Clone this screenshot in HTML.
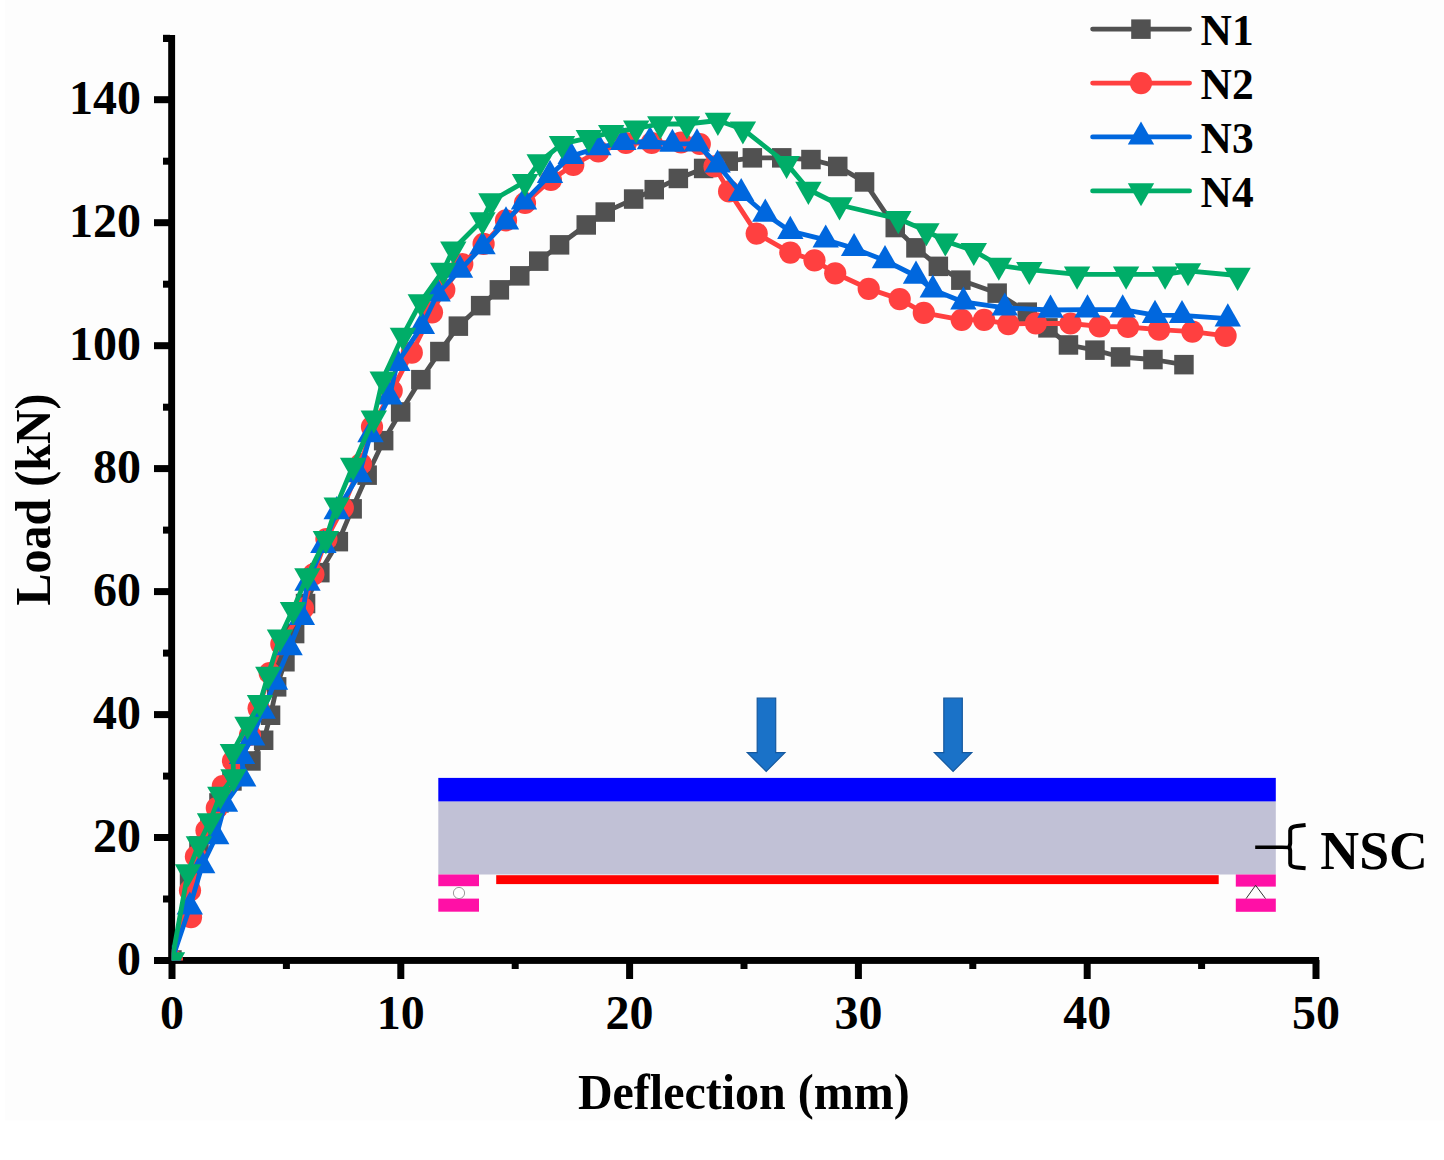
<!DOCTYPE html>
<html><head><meta charset="utf-8"><style>
html,body{margin:0;padding:0;background:#ffffff;}
svg{display:block;}
text{font-family:"Liberation Serif",serif;font-weight:bold;fill:#000;}
</style></head><body>
<svg width="1444" height="1160" viewBox="0 0 1444 1160">
<rect x="0" y="0" width="1444" height="1160" fill="#ffffff"/><rect x="5" y="0" width="1439" height="1120.5" fill="#fdfdfd"/>
<defs><clipPath id="pc"><rect x="171.8" y="30" width="1144.5" height="930.6"/></clipPath></defs>

<g>
<rect x="438.3" y="801.4" width="837.5" height="73.1" fill="#c1c1d6"/>
<rect x="438.3" y="777.9" width="837.5" height="23.5" fill="#0000ff"/>
<rect x="496.2" y="875.2" width="722.5" height="8.9" fill="#ff0000"/>
<rect x="438.3" y="874.5" width="40.7" height="11.7" fill="#ff10a6"/>
<rect x="438.3" y="898.6" width="40.7" height="13.1" fill="#ff10a6"/>
<rect x="1235.8" y="874.5" width="40" height="12.1" fill="#ff10a6"/>
<rect x="1235.8" y="898.6" width="40" height="13.2" fill="#ff10a6"/>
<circle cx="459" cy="893" r="5.6" fill="#fff" stroke="#808080" stroke-width="0.8"/>
<polyline points="1246.1,898.6 1255.6,885.3 1265.5,898.6" fill="none" stroke="#333" stroke-width="1"/>
<path d="M757.2,698.2 H775.7 V752.6 H784.9 L766.2,771.4 L747.3,752.6 H757.2 Z" fill="#1a72c8" stroke="#14589e" stroke-width="1.2"/>
<path d="M943.8,698.2 H962.3 V752.6 H971.8 L953.1,771.4 L934.4,752.6 H943.8 Z" fill="#1a72c8" stroke="#14589e" stroke-width="1.2"/>
<path d="M1255.2,847.2 H1282 L1289,847.5" stroke="#000" stroke-width="3.5" fill="none"/>
<path d="M1305.6,824.9 L1297,825.9 Q1290.2,826.6 1290.2,830.5 V843.5 L1289.4,847 L1290.2,850.5 V863.5 Q1290.2,866.8 1297,867.5 L1305.6,868.3" stroke="#000" stroke-width="4" fill="none" stroke-linejoin="round"/>
<text transform="translate(1320.3,869) scale(0.978,1)" font-size="55">NSC</text>
</g>

<rect x="168.2" y="35" width="6.9" height="929" fill="#000"/><rect x="168.2" y="957" width="1150.9" height="6.9" fill="#000"/><rect x="154" y="957.0" width="16" height="7" fill="#000"/><text x="141" y="974.7" font-size="48" text-anchor="end">0</text><rect x="154" y="834.0" width="16" height="7" fill="#000"/><text x="141" y="851.7" font-size="48" text-anchor="end">20</text><rect x="154" y="711.1" width="16" height="7" fill="#000"/><text x="141" y="728.8" font-size="48" text-anchor="end">40</text><rect x="154" y="588.1" width="16" height="7" fill="#000"/><text x="141" y="605.8" font-size="48" text-anchor="end">60</text><rect x="154" y="465.1" width="16" height="7" fill="#000"/><text x="141" y="482.8" font-size="48" text-anchor="end">80</text><rect x="154" y="342.2" width="16" height="7" fill="#000"/><text x="141" y="359.9" font-size="48" text-anchor="end">100</text><rect x="154" y="219.2" width="16" height="7" fill="#000"/><text x="141" y="236.9" font-size="48" text-anchor="end">120</text><rect x="154" y="96.2" width="16" height="7" fill="#000"/><text x="141" y="114.0" font-size="48" text-anchor="end">140</text><rect x="163" y="895.5" width="7" height="7" fill="#000"/><rect x="163" y="772.6" width="7" height="7" fill="#000"/><rect x="163" y="649.6" width="7" height="7" fill="#000"/><rect x="163" y="526.6" width="7" height="7" fill="#000"/><rect x="163" y="403.7" width="7" height="7" fill="#000"/><rect x="163" y="280.7" width="7" height="7" fill="#000"/><rect x="163" y="157.7" width="7" height="7" fill="#000"/><rect x="163" y="34.8" width="7" height="7" fill="#000"/><rect x="163" y="35" width="7" height="7" fill="#000"/><rect x="168.5" y="960" width="7" height="19" fill="#000"/><text x="172.0" y="1029" font-size="48" text-anchor="middle">0</text><rect x="397.3" y="960" width="7" height="19" fill="#000"/><text x="400.8" y="1029" font-size="48" text-anchor="middle">10</text><rect x="626.1" y="960" width="7" height="19" fill="#000"/><text x="629.6" y="1029" font-size="48" text-anchor="middle">20</text><rect x="854.9" y="960" width="7" height="19" fill="#000"/><text x="858.4" y="1029" font-size="48" text-anchor="middle">30</text><rect x="1083.7" y="960" width="7" height="19" fill="#000"/><text x="1087.2" y="1029" font-size="48" text-anchor="middle">40</text><rect x="1312.5" y="960" width="7" height="19" fill="#000"/><text x="1316.0" y="1029" font-size="48" text-anchor="middle">50</text><rect x="282.9" y="960" width="7" height="9" fill="#000"/><rect x="511.7" y="960" width="7" height="9" fill="#000"/><rect x="740.5" y="960" width="7" height="9" fill="#000"/><rect x="969.3" y="960" width="7" height="9" fill="#000"/><rect x="1198.1" y="960" width="7" height="9" fill="#000"/>
<g clip-path="url(#pc)">
<polyline points="172.0,960.0 189.5,880.0 199.0,846.0 210.0,826.0 219.0,803.0 232.0,781.0 251.0,761.0 263.7,740.3 270.5,715.2 276.7,686.9 285.0,661.8 294.6,633.5 305.5,603.5 319.8,572.6 338.4,541.6 352.2,508.8 367.2,475.2 383.6,440.7 400.6,412.0 420.8,379.6 439.9,351.5 458.3,326.2 480.7,305.6 499.3,289.9 519.8,275.9 538.8,261.2 559.5,244.8 586.2,225.0 605.2,212.1 633.6,199.1 654.3,189.7 678.4,178.4 703.6,168.4 728.3,161.2 752.4,157.8 781.7,157.8 811.0,159.5 837.8,166.4 864.5,181.9 895.3,227.6 916.0,247.8 938.4,266.4 960.9,280.2 997.1,293.1 1027.2,312.1 1047.9,327.9 1068.4,345.0 1095.0,350.1 1120.6,357.0 1152.9,359.5 1184.0,364.6" fill="none" stroke="#515151" stroke-width="4.8" stroke-linejoin="round" stroke-linecap="round"/><rect x="162.2" y="950.2" width="19.5" height="19.5" fill="#515151"/><rect x="179.8" y="870.2" width="19.5" height="19.5" fill="#515151"/><rect x="189.2" y="836.2" width="19.5" height="19.5" fill="#515151"/><rect x="200.2" y="816.2" width="19.5" height="19.5" fill="#515151"/><rect x="209.2" y="793.2" width="19.5" height="19.5" fill="#515151"/><rect x="222.2" y="771.2" width="19.5" height="19.5" fill="#515151"/><rect x="241.2" y="751.2" width="19.5" height="19.5" fill="#515151"/><rect x="253.9" y="730.5" width="19.5" height="19.5" fill="#515151"/><rect x="260.8" y="705.5" width="19.5" height="19.5" fill="#515151"/><rect x="266.9" y="677.1" width="19.5" height="19.5" fill="#515151"/><rect x="275.2" y="652.0" width="19.5" height="19.5" fill="#515151"/><rect x="284.9" y="623.8" width="19.5" height="19.5" fill="#515151"/><rect x="295.8" y="593.8" width="19.5" height="19.5" fill="#515151"/><rect x="310.1" y="562.9" width="19.5" height="19.5" fill="#515151"/><rect x="328.6" y="531.9" width="19.5" height="19.5" fill="#515151"/><rect x="342.4" y="499.1" width="19.5" height="19.5" fill="#515151"/><rect x="357.4" y="465.4" width="19.5" height="19.5" fill="#515151"/><rect x="373.9" y="430.9" width="19.5" height="19.5" fill="#515151"/><rect x="390.9" y="402.2" width="19.5" height="19.5" fill="#515151"/><rect x="411.1" y="369.9" width="19.5" height="19.5" fill="#515151"/><rect x="430.1" y="341.8" width="19.5" height="19.5" fill="#515151"/><rect x="448.6" y="316.4" width="19.5" height="19.5" fill="#515151"/><rect x="470.9" y="295.9" width="19.5" height="19.5" fill="#515151"/><rect x="489.6" y="280.1" width="19.5" height="19.5" fill="#515151"/><rect x="510.0" y="266.1" width="19.5" height="19.5" fill="#515151"/><rect x="529.0" y="251.4" width="19.5" height="19.5" fill="#515151"/><rect x="549.8" y="235.1" width="19.5" height="19.5" fill="#515151"/><rect x="576.5" y="215.2" width="19.5" height="19.5" fill="#515151"/><rect x="595.5" y="202.3" width="19.5" height="19.5" fill="#515151"/><rect x="623.9" y="189.3" width="19.5" height="19.5" fill="#515151"/><rect x="644.5" y="179.9" width="19.5" height="19.5" fill="#515151"/><rect x="668.6" y="168.7" width="19.5" height="19.5" fill="#515151"/><rect x="693.9" y="158.7" width="19.5" height="19.5" fill="#515151"/><rect x="718.5" y="151.4" width="19.5" height="19.5" fill="#515151"/><rect x="742.6" y="148.1" width="19.5" height="19.5" fill="#515151"/><rect x="772.0" y="148.1" width="19.5" height="19.5" fill="#515151"/><rect x="801.2" y="149.8" width="19.5" height="19.5" fill="#515151"/><rect x="828.0" y="156.7" width="19.5" height="19.5" fill="#515151"/><rect x="854.8" y="172.2" width="19.5" height="19.5" fill="#515151"/><rect x="885.5" y="217.8" width="19.5" height="19.5" fill="#515151"/><rect x="906.2" y="238.1" width="19.5" height="19.5" fill="#515151"/><rect x="928.6" y="256.6" width="19.5" height="19.5" fill="#515151"/><rect x="951.1" y="270.4" width="19.5" height="19.5" fill="#515151"/><rect x="987.4" y="283.4" width="19.5" height="19.5" fill="#515151"/><rect x="1017.5" y="302.4" width="19.5" height="19.5" fill="#515151"/><rect x="1038.2" y="318.1" width="19.5" height="19.5" fill="#515151"/><rect x="1058.7" y="335.2" width="19.5" height="19.5" fill="#515151"/><rect x="1085.2" y="340.4" width="19.5" height="19.5" fill="#515151"/><rect x="1110.8" y="347.2" width="19.5" height="19.5" fill="#515151"/><rect x="1143.2" y="349.8" width="19.5" height="19.5" fill="#515151"/><rect x="1174.2" y="354.9" width="19.5" height="19.5" fill="#515151"/>
<polyline points="172.0,960.0 190.0,890.5 191.0,917.2 195.9,856.5 206.5,830.4 216.8,808.0 222.8,786.0 233.0,761.0 250.0,735.0 258.6,708.3 269.7,673.0 281.3,644.1 303.0,608.3 313.4,574.3 326.4,539.0 342.8,507.9 360.9,464.0 372.0,426.9 391.7,390.8 411.8,352.6 432.0,312.3 444.3,289.9 462.3,264.1 483.6,243.9 506.0,220.4 525.0,203.0 550.9,180.0 573.3,165.0 598.3,151.5 625.9,143.0 651.7,143.0 681.0,142.5 699.8,144.0 714.5,166.4 729.1,191.4 756.7,233.6 790.3,252.6 814.5,260.3 835.2,273.3 868.7,288.8 899.7,299.1 923.8,312.9 961.7,319.8 984.1,319.8 1008.3,324.1 1035.9,323.3 1070.5,323.5 1099.6,326.3 1128.0,327.0 1159.1,329.7 1192.4,331.6 1225.6,335.8" fill="none" stroke="#ff4040" stroke-width="4.8" stroke-linejoin="round" stroke-linecap="round"/><circle cx="172.0" cy="960.0" r="11.1" fill="#ff4040"/><circle cx="190.0" cy="890.5" r="11.1" fill="#ff4040"/><circle cx="191.0" cy="917.2" r="11.1" fill="#ff4040"/><circle cx="195.9" cy="856.5" r="11.1" fill="#ff4040"/><circle cx="206.5" cy="830.4" r="11.1" fill="#ff4040"/><circle cx="216.8" cy="808.0" r="11.1" fill="#ff4040"/><circle cx="222.8" cy="786.0" r="11.1" fill="#ff4040"/><circle cx="233.0" cy="761.0" r="11.1" fill="#ff4040"/><circle cx="250.0" cy="735.0" r="11.1" fill="#ff4040"/><circle cx="258.6" cy="708.3" r="11.1" fill="#ff4040"/><circle cx="269.7" cy="673.0" r="11.1" fill="#ff4040"/><circle cx="281.3" cy="644.1" r="11.1" fill="#ff4040"/><circle cx="303.0" cy="608.3" r="11.1" fill="#ff4040"/><circle cx="313.4" cy="574.3" r="11.1" fill="#ff4040"/><circle cx="326.4" cy="539.0" r="11.1" fill="#ff4040"/><circle cx="342.8" cy="507.9" r="11.1" fill="#ff4040"/><circle cx="360.9" cy="464.0" r="11.1" fill="#ff4040"/><circle cx="372.0" cy="426.9" r="11.1" fill="#ff4040"/><circle cx="391.7" cy="390.8" r="11.1" fill="#ff4040"/><circle cx="411.8" cy="352.6" r="11.1" fill="#ff4040"/><circle cx="432.0" cy="312.3" r="11.1" fill="#ff4040"/><circle cx="444.3" cy="289.9" r="11.1" fill="#ff4040"/><circle cx="462.3" cy="264.1" r="11.1" fill="#ff4040"/><circle cx="483.6" cy="243.9" r="11.1" fill="#ff4040"/><circle cx="506.0" cy="220.4" r="11.1" fill="#ff4040"/><circle cx="525.0" cy="203.0" r="11.1" fill="#ff4040"/><circle cx="550.9" cy="180.0" r="11.1" fill="#ff4040"/><circle cx="573.3" cy="165.0" r="11.1" fill="#ff4040"/><circle cx="598.3" cy="151.5" r="11.1" fill="#ff4040"/><circle cx="625.9" cy="143.0" r="11.1" fill="#ff4040"/><circle cx="651.7" cy="143.0" r="11.1" fill="#ff4040"/><circle cx="681.0" cy="142.5" r="11.1" fill="#ff4040"/><circle cx="699.8" cy="144.0" r="11.1" fill="#ff4040"/><circle cx="714.5" cy="166.4" r="11.1" fill="#ff4040"/><circle cx="729.1" cy="191.4" r="11.1" fill="#ff4040"/><circle cx="756.7" cy="233.6" r="11.1" fill="#ff4040"/><circle cx="790.3" cy="252.6" r="11.1" fill="#ff4040"/><circle cx="814.5" cy="260.3" r="11.1" fill="#ff4040"/><circle cx="835.2" cy="273.3" r="11.1" fill="#ff4040"/><circle cx="868.7" cy="288.8" r="11.1" fill="#ff4040"/><circle cx="899.7" cy="299.1" r="11.1" fill="#ff4040"/><circle cx="923.8" cy="312.9" r="11.1" fill="#ff4040"/><circle cx="961.7" cy="319.8" r="11.1" fill="#ff4040"/><circle cx="984.1" cy="319.8" r="11.1" fill="#ff4040"/><circle cx="1008.3" cy="324.1" r="11.1" fill="#ff4040"/><circle cx="1035.9" cy="323.3" r="11.1" fill="#ff4040"/><circle cx="1070.5" cy="323.5" r="11.1" fill="#ff4040"/><circle cx="1099.6" cy="326.3" r="11.1" fill="#ff4040"/><circle cx="1128.0" cy="327.0" r="11.1" fill="#ff4040"/><circle cx="1159.1" cy="329.7" r="11.1" fill="#ff4040"/><circle cx="1192.4" cy="331.6" r="11.1" fill="#ff4040"/><circle cx="1225.6" cy="335.8" r="11.1" fill="#ff4040"/>
<polyline points="172.0,960.0 189.8,906.9 202.2,865.5 216.2,836.5 225.0,804.1 243.2,778.7 242.0,756.4 252.2,737.7 262.7,711.0 275.0,682.1 289.6,647.6 301.9,617.2 307.5,583.0 323.4,545.2 336.7,511.5 359.1,474.5 370.5,434.5 389.4,396.8 397.3,363.2 421.9,326.2 437.6,293.7 460.0,270.0 482.5,246.6 506.0,221.7 524.0,201.9 550.0,175.2 570.7,156.2 598.3,147.6 623.3,142.4 650.0,141.5 672.4,144.1 697.0,143.7 717.6,164.8 741.2,193.3 765.3,214.0 790.3,231.2 825.7,239.8 854.1,248.4 885.0,260.5 916.0,276.0 932.8,289.8 963.4,301.9 1004.8,307.9 1050.5,310.0 1087.5,309.7 1122.7,309.7 1155.0,315.2 1182.0,315.4 1227.8,318.7" fill="none" stroke="#0067de" stroke-width="4.8" stroke-linejoin="round" stroke-linecap="round"/><polygon points="172.0,944.6 185.2,967.7 158.8,967.7" fill="#0067de"/><polygon points="189.8,891.5 203.0,914.6 176.6,914.6" fill="#0067de"/><polygon points="202.2,850.1 215.4,873.2 189.0,873.2" fill="#0067de"/><polygon points="216.2,821.1 229.4,844.2 203.0,844.2" fill="#0067de"/><polygon points="225.0,788.7 238.2,811.8 211.8,811.8" fill="#0067de"/><polygon points="243.2,763.3 256.4,786.4 230.0,786.4" fill="#0067de"/><polygon points="242.0,741.0 255.2,764.1 228.8,764.1" fill="#0067de"/><polygon points="252.2,722.3 265.4,745.4 239.0,745.4" fill="#0067de"/><polygon points="262.7,695.6 275.9,718.7 249.5,718.7" fill="#0067de"/><polygon points="275.0,666.7 288.2,689.8 261.8,689.8" fill="#0067de"/><polygon points="289.6,632.2 302.8,655.3 276.4,655.3" fill="#0067de"/><polygon points="301.9,601.8 315.1,624.9 288.7,624.9" fill="#0067de"/><polygon points="307.5,567.6 320.7,590.7 294.3,590.7" fill="#0067de"/><polygon points="323.4,529.8 336.6,552.9 310.2,552.9" fill="#0067de"/><polygon points="336.7,496.1 349.9,519.2 323.5,519.2" fill="#0067de"/><polygon points="359.1,459.1 372.3,482.2 345.9,482.2" fill="#0067de"/><polygon points="370.5,419.1 383.7,442.2 357.3,442.2" fill="#0067de"/><polygon points="389.4,381.4 402.6,404.5 376.2,404.5" fill="#0067de"/><polygon points="397.3,347.8 410.5,370.9 384.1,370.9" fill="#0067de"/><polygon points="421.9,310.8 435.1,333.9 408.7,333.9" fill="#0067de"/><polygon points="437.6,278.3 450.8,301.4 424.4,301.4" fill="#0067de"/><polygon points="460.0,254.6 473.2,277.7 446.8,277.7" fill="#0067de"/><polygon points="482.5,231.2 495.7,254.3 469.3,254.3" fill="#0067de"/><polygon points="506.0,206.3 519.2,229.4 492.8,229.4" fill="#0067de"/><polygon points="524.0,186.5 537.2,209.6 510.8,209.6" fill="#0067de"/><polygon points="550.0,159.8 563.2,182.9 536.8,182.9" fill="#0067de"/><polygon points="570.7,140.8 583.9,163.9 557.5,163.9" fill="#0067de"/><polygon points="598.3,132.2 611.5,155.3 585.1,155.3" fill="#0067de"/><polygon points="623.3,127.0 636.5,150.1 610.1,150.1" fill="#0067de"/><polygon points="650.0,126.1 663.2,149.2 636.8,149.2" fill="#0067de"/><polygon points="672.4,128.7 685.6,151.8 659.2,151.8" fill="#0067de"/><polygon points="697.0,128.3 710.2,151.4 683.8,151.4" fill="#0067de"/><polygon points="717.6,149.4 730.8,172.5 704.4,172.5" fill="#0067de"/><polygon points="741.2,177.9 754.4,201.0 728.0,201.0" fill="#0067de"/><polygon points="765.3,198.6 778.5,221.7 752.1,221.7" fill="#0067de"/><polygon points="790.3,215.8 803.5,238.9 777.1,238.9" fill="#0067de"/><polygon points="825.7,224.4 838.9,247.5 812.5,247.5" fill="#0067de"/><polygon points="854.1,233.0 867.3,256.1 840.9,256.1" fill="#0067de"/><polygon points="885.0,245.1 898.2,268.2 871.8,268.2" fill="#0067de"/><polygon points="916.0,260.6 929.2,283.7 902.8,283.7" fill="#0067de"/><polygon points="932.8,274.4 946.0,297.5 919.6,297.5" fill="#0067de"/><polygon points="963.4,286.5 976.6,309.6 950.2,309.6" fill="#0067de"/><polygon points="1004.8,292.5 1018.0,315.6 991.6,315.6" fill="#0067de"/><polygon points="1050.5,294.6 1063.7,317.7 1037.3,317.7" fill="#0067de"/><polygon points="1087.5,294.3 1100.7,317.4 1074.3,317.4" fill="#0067de"/><polygon points="1122.7,294.3 1135.9,317.4 1109.5,317.4" fill="#0067de"/><polygon points="1155.0,299.8 1168.2,322.9 1141.8,322.9" fill="#0067de"/><polygon points="1182.0,300.0 1195.2,323.1 1168.8,323.1" fill="#0067de"/><polygon points="1227.8,303.3 1241.0,326.4 1214.6,326.4" fill="#0067de"/>
<polyline points="172.0,960.0 188.0,872.0 198.9,844.0 210.0,821.0 220.3,794.4 233.5,777.0 232.9,751.7 247.5,724.5 260.0,702.8 268.3,674.5 280.0,637.3 293.0,609.6 307.4,575.9 325.9,538.8 336.7,505.2 353.1,465.5 373.8,418.3 382.7,379.3 402.9,335.5 420.8,301.9 443.2,270.5 453.3,249.2 482.5,220.0 491.4,201.0 525.0,181.7 539.7,161.9 562.0,143.8 588.8,137.8 611.2,132.6 636.2,128.3 660.3,124.0 687.0,124.0 717.9,120.5 742.9,129.2 786.6,163.6 808.4,189.5 839.5,205.0 898.3,218.8 926.4,230.9 945.3,241.2 973.8,250.7 998.8,265.4 1029.3,269.7 1077.1,274.3 1126.1,274.3 1165.1,274.3 1188.0,270.9 1237.6,275.5" fill="none" stroke="#00ad68" stroke-width="4.8" stroke-linejoin="round" stroke-linecap="round"/><polygon points="158.8,952.3 185.2,952.3 172.0,975.4" fill="#00ad68"/><polygon points="174.8,864.3 201.2,864.3 188.0,887.4" fill="#00ad68"/><polygon points="185.7,836.3 212.1,836.3 198.9,859.4" fill="#00ad68"/><polygon points="196.8,813.3 223.2,813.3 210.0,836.4" fill="#00ad68"/><polygon points="207.1,786.7 233.5,786.7 220.3,809.8" fill="#00ad68"/><polygon points="220.3,769.3 246.7,769.3 233.5,792.4" fill="#00ad68"/><polygon points="219.7,744.0 246.1,744.0 232.9,767.1" fill="#00ad68"/><polygon points="234.3,716.8 260.7,716.8 247.5,739.9" fill="#00ad68"/><polygon points="246.8,695.1 273.2,695.1 260.0,718.2" fill="#00ad68"/><polygon points="255.1,666.8 281.5,666.8 268.3,689.9" fill="#00ad68"/><polygon points="266.8,629.6 293.2,629.6 280.0,652.7" fill="#00ad68"/><polygon points="279.8,601.9 306.2,601.9 293.0,625.0" fill="#00ad68"/><polygon points="294.2,568.2 320.6,568.2 307.4,591.3" fill="#00ad68"/><polygon points="312.7,531.1 339.1,531.1 325.9,554.2" fill="#00ad68"/><polygon points="323.5,497.5 349.9,497.5 336.7,520.6" fill="#00ad68"/><polygon points="339.9,457.8 366.3,457.8 353.1,480.9" fill="#00ad68"/><polygon points="360.6,410.6 387.0,410.6 373.8,433.7" fill="#00ad68"/><polygon points="369.5,371.6 395.9,371.6 382.7,394.7" fill="#00ad68"/><polygon points="389.7,327.8 416.1,327.8 402.9,350.9" fill="#00ad68"/><polygon points="407.6,294.2 434.0,294.2 420.8,317.3" fill="#00ad68"/><polygon points="430.0,262.8 456.4,262.8 443.2,285.9" fill="#00ad68"/><polygon points="440.1,241.5 466.5,241.5 453.3,264.6" fill="#00ad68"/><polygon points="469.3,212.3 495.7,212.3 482.5,235.4" fill="#00ad68"/><polygon points="478.2,193.3 504.6,193.3 491.4,216.4" fill="#00ad68"/><polygon points="511.8,174.0 538.2,174.0 525.0,197.1" fill="#00ad68"/><polygon points="526.5,154.2 552.9,154.2 539.7,177.3" fill="#00ad68"/><polygon points="548.8,136.1 575.2,136.1 562.0,159.2" fill="#00ad68"/><polygon points="575.6,130.1 602.0,130.1 588.8,153.2" fill="#00ad68"/><polygon points="598.0,124.9 624.4,124.9 611.2,148.0" fill="#00ad68"/><polygon points="623.0,120.6 649.4,120.6 636.2,143.7" fill="#00ad68"/><polygon points="647.1,116.3 673.5,116.3 660.3,139.4" fill="#00ad68"/><polygon points="673.8,116.3 700.2,116.3 687.0,139.4" fill="#00ad68"/><polygon points="704.7,112.8 731.1,112.8 717.9,135.9" fill="#00ad68"/><polygon points="729.7,121.5 756.1,121.5 742.9,144.6" fill="#00ad68"/><polygon points="773.4,155.9 799.8,155.9 786.6,179.0" fill="#00ad68"/><polygon points="795.2,181.8 821.6,181.8 808.4,204.9" fill="#00ad68"/><polygon points="826.3,197.3 852.7,197.3 839.5,220.4" fill="#00ad68"/><polygon points="885.1,211.1 911.5,211.1 898.3,234.2" fill="#00ad68"/><polygon points="913.2,223.2 939.6,223.2 926.4,246.3" fill="#00ad68"/><polygon points="932.1,233.5 958.5,233.5 945.3,256.6" fill="#00ad68"/><polygon points="960.6,243.0 987.0,243.0 973.8,266.1" fill="#00ad68"/><polygon points="985.6,257.7 1012.0,257.7 998.8,280.8" fill="#00ad68"/><polygon points="1016.1,262.0 1042.5,262.0 1029.3,285.1" fill="#00ad68"/><polygon points="1063.9,266.6 1090.3,266.6 1077.1,289.7" fill="#00ad68"/><polygon points="1112.9,266.6 1139.3,266.6 1126.1,289.7" fill="#00ad68"/><polygon points="1151.9,266.6 1178.3,266.6 1165.1,289.7" fill="#00ad68"/><polygon points="1174.8,263.2 1201.2,263.2 1188.0,286.3" fill="#00ad68"/><polygon points="1224.4,267.8 1250.8,267.8 1237.6,290.9" fill="#00ad68"/>
</g>
<text transform="translate(743.8,1109.3) scale(0.96,1)" font-size="50" text-anchor="middle">Deflection (mm)</text>
<text transform="translate(49.6,499.5) rotate(-90) scale(0.96,1)" font-size="50" text-anchor="middle">Load (kN)</text>
<line x1="1092.6" y1="29.1" x2="1189.6" y2="29.1" stroke="#515151" stroke-width="4.8" stroke-linecap="round"/><rect x="1131.2" y="19.4" width="19.5" height="19.5" fill="#515151"/><text transform="translate(1200.6,44.7) scale(0.965,1)" font-size="45">N1</text><line x1="1092.6" y1="83.1" x2="1189.6" y2="83.1" stroke="#ff4040" stroke-width="4.8" stroke-linecap="round"/><circle cx="1141.0" cy="83.1" r="11.1" fill="#ff4040"/><text transform="translate(1200.6,98.7) scale(0.965,1)" font-size="45">N2</text><line x1="1092.6" y1="136.9" x2="1189.6" y2="136.9" stroke="#0067de" stroke-width="4.8" stroke-linecap="round"/><polygon points="1141.0,121.5 1154.2,144.6 1127.8,144.6" fill="#0067de"/><text transform="translate(1200.6,152.5) scale(0.965,1)" font-size="45">N3</text><line x1="1092.6" y1="190.9" x2="1189.6" y2="190.9" stroke="#00ad68" stroke-width="4.8" stroke-linecap="round"/><polygon points="1127.8,183.2 1154.2,183.2 1141.0,206.3" fill="#00ad68"/><text transform="translate(1200.6,206.5) scale(0.965,1)" font-size="45">N4</text>
</svg></body></html>
